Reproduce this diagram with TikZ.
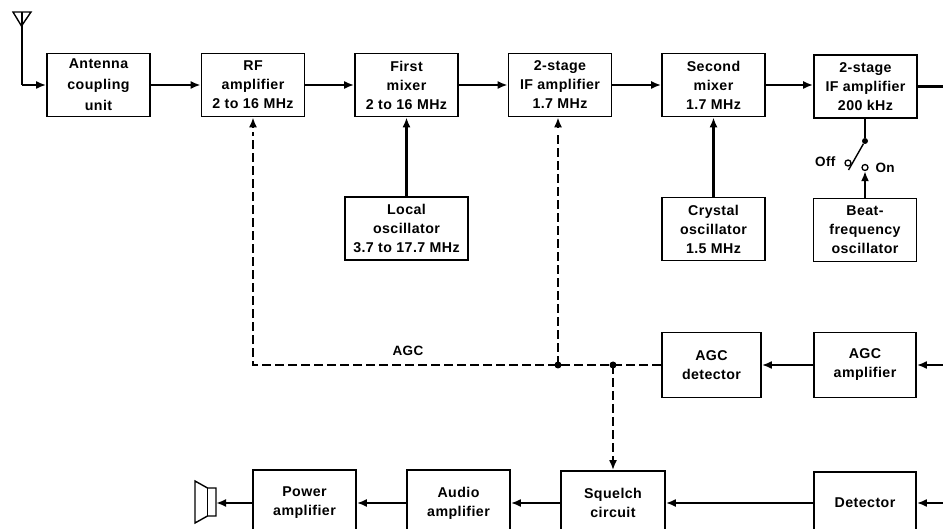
\documentclass[tikz,border=0pt]{standalone}
\usepackage{fontspec}
\setmainfont{Liberation Sans}[LetterSpace=3]
\usetikzlibrary{arrows.meta}
\tikzset{
  blockbox/.style={draw=black,line width=1.7pt,fill=white,align=center,inner sep=0pt,
    minimum width=#1,minimum height=63pt,font=\fontsize{14.2}{19}\selectfont\bfseries},
  blockbox/.default=103pt,
  conn/.style={line width=2.6pt,-{Latex[length=10pt,width=8pt]}},
  thinconn/.style={line width=2pt,-{Latex[length=10pt,width=8pt]}},
  plainconn/.style={line width=2.6pt},
  agcdash/.style={line width=2.6pt,dash pattern=on 9pt off 4pt},
  dot/.style={circle,fill=black,inner sep=0pt,minimum size=7pt},
  contact/.style={circle,draw=black,fill=white,line width=1.3pt,inner sep=0pt,minimum size=6pt},
  lbl/.style={font=\fontsize{13.5}{15}\selectfont\bfseries}
}
\begin{document}
\begin{tikzpicture}[x=1pt,y=-1pt]
\useasboundingbox (0,0) rectangle (943,529);
\clip (0,0) rectangle (943,529);
% top row
\node[blockbox] (ant) at (98.5,85) {Antenna\\[2pt]coupling\\[2pt]unit};
\node[blockbox] (rf) at (253,85) {RF\\amplifier\\2 to 16 MHz};
\node[blockbox] (mix1) at (406.5,85) {First\\mixer\\2 to 16 MHz};
\node[blockbox] (if1) at (560,85) {2-stage\\IF amplifier\\1.7 MHz};
\node[blockbox] (mix2) at (713.5,85) {Second\\mixer\\1.7 MHz};
\node[blockbox] (if2) at (865.5,86.5) {2-stage\\IF amplifier\\200 kHz};
% oscillators
\node[blockbox=123pt] (lo) at (406.5,228.5) {Local\\oscillator\\3.7 to 17.7 MHz};
\node[blockbox] (xo) at (713.5,229) {Crystal\\oscillator\\1.5 MHz};
\node[blockbox] (bfo) at (865,230) {Beat-\\frequency\\oscillator};
% AGC row
\node[blockbox=99pt,minimum height=65pt] (agcd) at (711.5,365) {AGC\\detector};
\node[blockbox=102pt,minimum height=65pt] (agca) at (865,365) {AGC\\amplifier};
% bottom row
\node[blockbox=103pt,minimum height=66pt] (pa) at (304.5,503) {Power\\amplifier};
\node[blockbox=103pt,minimum height=66pt] (aa) at (458.5,503) {Audio\\amplifier};
\node[blockbox=104pt,minimum height=64pt] (sq) at (613,503) {Squelch\\circuit};
\node[blockbox=102pt,minimum height=62pt] (det) at (865,503) {Detector};
% antenna
\coordinate (anttop) at (21.5,12);
\coordinate (antcorner) at (21.5,85);
\draw[line width=1.4pt,line join=miter] (13,12) -- (31,12) -- (21.5,26) -- cycle;
\draw[line width=2pt] (anttop) -- (antcorner);
\draw[conn] (antcorner) -- (ant.west);
% signal chain
\draw[conn] (ant.east) -- (rf.west);
\draw[conn] (rf.east) -- (mix1.west);
\draw[conn] (mix1.east) -- (if1.west);
\draw[conn] (if1.east) -- (mix2.west);
\draw[conn] (mix2.east) -- (if2.west |- mix2.east);
\coordinate (ifout) at (943,86.5);
\draw[plainconn] (if2.east) -- (ifout);
\draw[conn] (lo.north) -- (mix1.south);
\draw[conn] (xo.north) -- (mix2.south);
% BFO switch
\node[dot,minimum size=6pt] (pivot) at (865,141) {};
\node[contact] (off) at (848,163) {};
\node[contact] (on) at (865,167.5) {};
\coordinate (armend) at (848.5,170);
\draw[plainconn] (if2.south -| pivot) -- (pivot);
\draw[line width=1.4pt] (pivot) -- (armend);
\draw[conn] (bfo.north -| on) -- (on);
\node[lbl,anchor=east] (offl) at (839,162) {Off};
\node[lbl,anchor=west] (onl) at (872,167.5) {On};
% AGC
\coordinate (agcin) at (943,365);
\draw[conn] (agcin) -- (agca.east);
\draw[conn] (agca.west) -- (agcd.east);
\node[dot] (j2) at (613,365) {};
\node[dot] (j1) at (558,365) {};
\coordinate (rfcorner) at (253,365);
\coordinate (ifdash) at (558,132);
\draw[agcdash] (agcd.west) -- (j2.center) -- (j1.center) -- (rfcorner) -- (rf.south |- 0,132);
\draw[conn] (rf.south |- 0,128) -- (rf.south);
\draw[agcdash] (j1.center) -- (ifdash);
\draw[conn] (558,128) -- (if1.south -| j1);
\draw[agcdash] (j2.center) -- (613,460);
\draw[conn] (613,458) -- (sq.north);
\node[lbl] (agclbl) at (408,351) {AGC};
% bottom chain
\coordinate (detin) at (943,503);
\draw[conn] (detin) -- (det.east);
\draw[thinconn] (det.west) -- (sq.east);
\draw[conn] (sq.west) -- (aa.east);
\draw[thinconn] (aa.west) -- (pa.east);
% speaker
\coordinate (spk) at (216,503);
\draw[conn] (pa.west) -- (spk);
\draw[line width=1.4pt,line join=miter] (195,481) -- (207.5,488) -- (216,488) -- (216,516) -- (207.5,516) -- (195,523) -- cycle;
\draw[line width=1.4pt] (207.5,488) -- (207.5,516);
\end{tikzpicture}
\end{document}
